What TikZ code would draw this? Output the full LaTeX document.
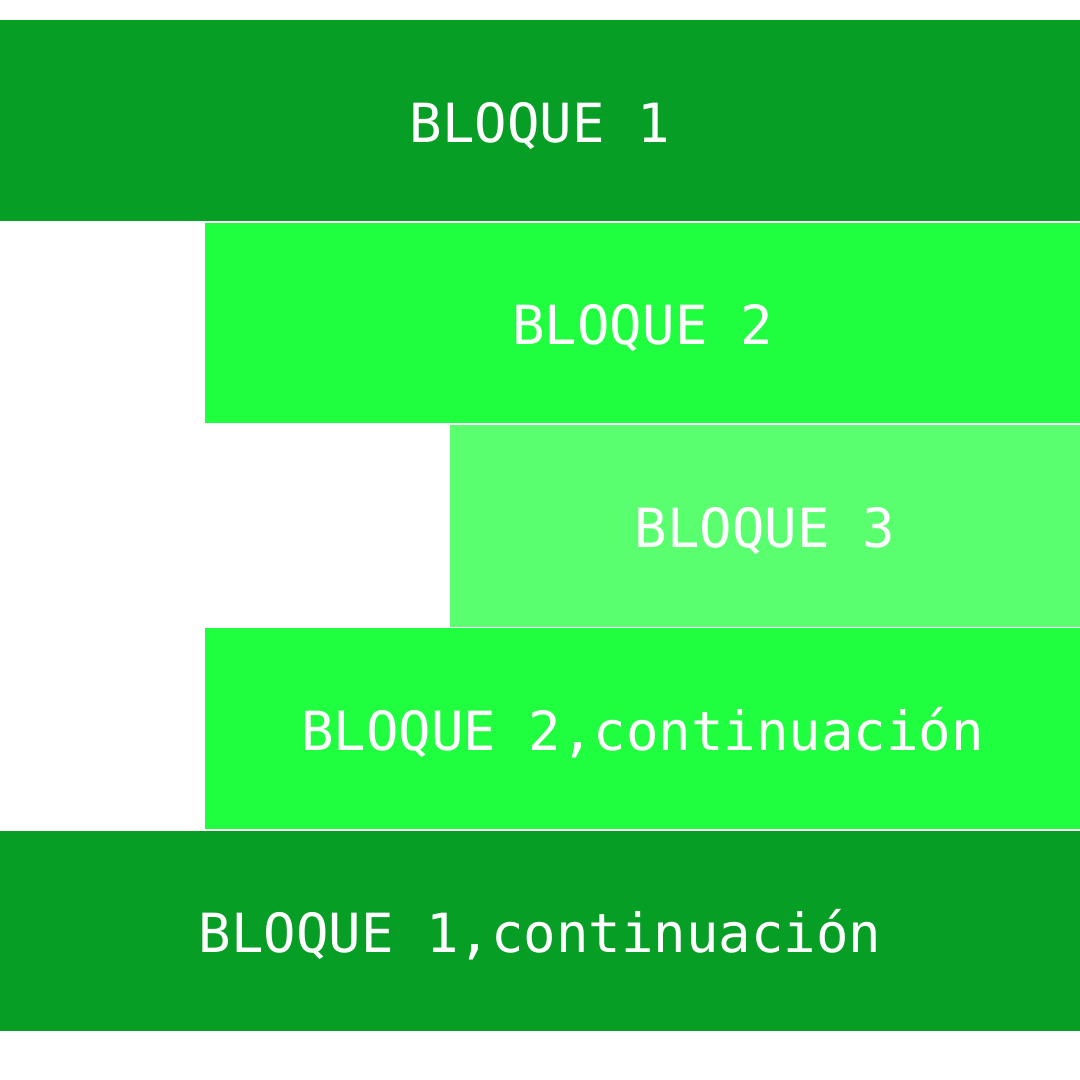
\documentclass[tikz,border=0pt]{standalone}
\usepackage{fontspec}
\setmonofont{DejaVu Sans Mono}
\definecolor{dkgreen}{HTML}{069E24}
\definecolor{brgreen}{HTML}{1FFF3F}
\definecolor{ltgreen}{HTML}{5AFF70}
\tikzset{
  blk/.style={draw=none, anchor=north west, inner sep=0pt, outer sep=0pt,
    text=white, font=\ttfamily\fontsize{54}{60}\selectfont,
    text height=43pt, text depth=0pt, align=center},
}
\begin{document}
\begin{tikzpicture}[x=1pt,y=-1pt]
\useasboundingbox[fill=white] (0,0) rectangle (1080,1080);
\node[blk, fill=dkgreen, minimum width=1080pt, minimum height=201pt] (b1) at (0,20) {BLOQUE 1};
\node[blk, fill=brgreen, minimum width=875pt, minimum height=200pt] (b2) at (205,223) {BLOQUE 2};
\node[blk, fill=ltgreen, minimum width=630pt, minimum height=202pt] (b3) at (450,425) {BLOQUE 3};
\node[blk, fill=brgreen, minimum width=875pt, minimum height=201pt] (b2c) at (205,628) {BLOQUE 2,continuación};
\node[blk, fill=dkgreen, minimum width=1080pt, minimum height=200pt] (b1c) at (0,831) {BLOQUE 1,continuación};
\end{tikzpicture}
\end{document}
